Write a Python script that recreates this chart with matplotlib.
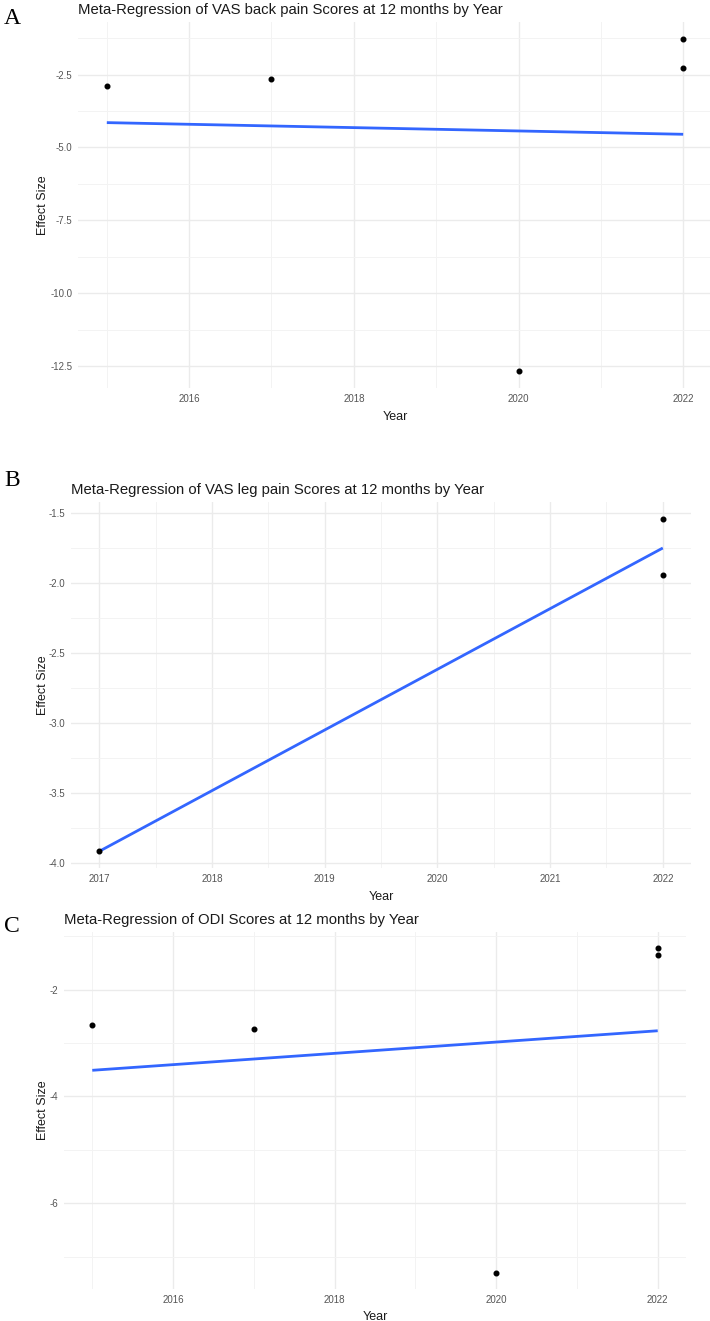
import numpy as np
import matplotlib
matplotlib.use("Agg")
import matplotlib.pyplot as plt
from matplotlib.ticker import MultipleLocator

plt.rcParams['font.family'] = ['Liberation Sans', 'DejaVu Sans']

# ---- data ----
# A: VAS back pain
a_years = [2015, 2017, 2020, 2022, 2022]
a_effect = [-2.90, -2.67, -12.68, -1.27, -2.27]
a_fit_years = [2015, 2022]
a_fit_vals = [-4.15, -4.55]

# B: VAS leg pain
b_years = [2017, 2022, 2022]
b_effect = [-3.92, -1.54, -1.94]
b_fit_years = [2017, 2022]
b_fit_vals = [-3.92, -1.75]

# C: ODI
c_years = [2015, 2017, 2020, 2022, 2022]
c_effect = [-2.66, -2.73, -7.30, -1.225, -1.36]
c_fit_years = [2015, 2022]
c_fit_vals = [-3.51, -2.77]

titles = ["Meta-Regression of VAS back pain Scores at 12 months by Year",
          "Meta-Regression of VAS leg pain Scores at 12 months by Year",
          "Meta-Regression of ODI Scores at 12 months by Year"]
letters = ["A", "B", "C"]

W, H = 710, 1321
fig = plt.figure(figsize=(W / 100, H / 100), dpi=100)


def px_axes(left, top, right, bottom):
    return fig.add_axes([left / W, 1 - bottom / H, (right - left) / W, (bottom - top) / H])


def panel(ax, years, effect, fit_x, fit_y, title, xmaj, xmin_, ymaj, ymin_, yfmt, left_px, width_px):
    ax.set_facecolor('white')
    for s in ax.spines.values():
        s.set_visible(False)
    ax.xaxis.set_major_locator(MultipleLocator(xmaj))
    ax.xaxis.set_minor_locator(MultipleLocator(xmin_))
    ax.yaxis.set_major_locator(MultipleLocator(ymaj))
    ax.yaxis.set_minor_locator(MultipleLocator(ymin_))
    ax.grid(which='major', color='#EBEBEB', linewidth=1.0)
    ax.grid(which='minor', color='#F3F3F3', linewidth=0.7)
    ax.set_axisbelow(True)
    ax.tick_params(which='both', length=0, labelsize=7, colors='#555555', pad=4)
    ax.yaxis.set_major_formatter(plt.FuncFormatter(lambda v, p: yfmt.format(v)))
    ax.plot(fit_x, fit_y, color='#3366FF', linewidth=2.0, solid_capstyle='butt', zorder=2)
    ax.scatter(years, effect, s=11, color='black', zorder=3)
    rng = max(effect) - min(effect)
    ax.set_ylim(min(effect) - 0.05 * rng, max(effect) + 0.05 * rng)
    xr = max(years) - min(years)
    ax.set_xlim(min(years) - 0.05 * xr, max(years) + 0.05 * xr)
    ax.set_xlabel('Year', fontsize=9, color='#1A1A1A', labelpad=5)
    ax.set_ylabel('Effect Size', fontsize=9, color='#1A1A1A')
    ax.yaxis.set_label_coords((49 - left_px) / width_px, 0.5)
    ax.set_title(title, loc='left', fontsize=10.7, color='#1A1A1A', pad=6)


axA = px_axes(78, 22, 712, 388)
panel(axA, a_years, a_effect, a_fit_years, a_fit_vals, titles[0], 2, 1, 2.5, 1.25, "{:.1f}", 78, 634)

axB = px_axes(71, 502, 691, 868)
panel(axB, b_years, b_effect, b_fit_years, b_fit_vals, titles[1], 1, 0.5, 0.5, 0.25, "{:.1f}", 71, 620)

axC = px_axes(64, 932, 686, 1289)
panel(axC, c_years, c_effect, c_fit_years, c_fit_vals, titles[2], 2, 1, 2, 1, "{:.0f}", 64, 622)

for letter, y in zip(letters, [18, 480, 926]):
    fig.text(4 / W, 1 - y / H, letter, fontsize=17, family='Liberation Serif',
             va='center', ha='left', color='black')

fig.savefig('out.png', dpi=100, facecolor='white')
